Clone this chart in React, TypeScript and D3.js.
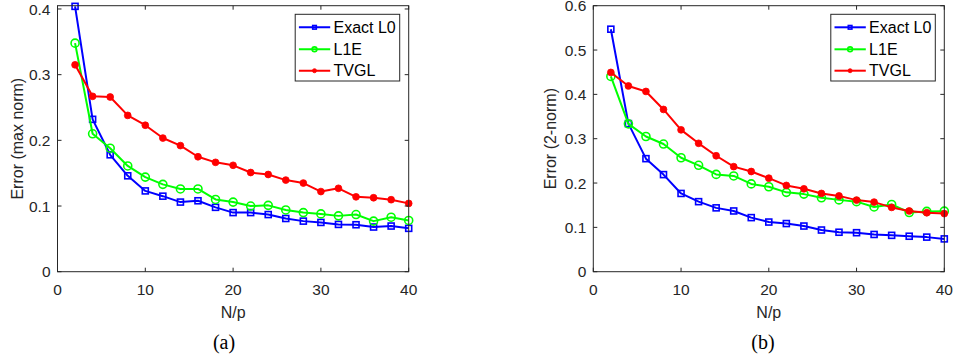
import React from 'react';
import * as d3 from 'd3';

// N/p values
const nOverP = [2, 4, 6, 8, 10, 12, 14, 16, 18, 20, 22, 24, 26, 28, 30, 32, 34, 36, 38, 40];

// (a) max norm
const maxExactL0 = [0.404, 0.232, 0.178, 0.146, 0.123, 0.115, 0.106, 0.108, 0.098, 0.090, 0.090, 0.087, 0.081, 0.077, 0.075, 0.072, 0.0715, 0.068, 0.0695, 0.066];
const maxL1E = [0.348, 0.210, 0.188, 0.161, 0.144, 0.133, 0.126, 0.126, 0.110, 0.106, 0.100, 0.101, 0.094, 0.090, 0.088, 0.085, 0.087, 0.077, 0.083, 0.078];
const maxTVGL = [0.315, 0.267, 0.266, 0.238, 0.223, 0.2035, 0.192, 0.175, 0.1665, 0.162, 0.151, 0.148, 0.1395, 0.135, 0.122, 0.127, 0.114, 0.1126, 0.1096, 0.104];

// (b) 2-norm
const twoExactL0 = [0.547, 0.334, 0.255, 0.219, 0.1765, 0.158, 0.144, 0.137, 0.122, 0.112, 0.1086, 0.103, 0.094, 0.089, 0.088, 0.084, 0.082, 0.080, 0.078, 0.074];
const twoL1E = [0.4405, 0.3335, 0.305, 0.288, 0.257, 0.240, 0.2195, 0.216, 0.198, 0.1916, 0.179, 0.175, 0.1667, 0.162, 0.158, 0.146, 0.1516, 0.1335, 0.136, 0.1366];
const twoTVGL = [0.4495, 0.419, 0.4066, 0.366, 0.320, 0.2896, 0.2615, 0.237, 0.226, 0.211, 0.1946, 0.187, 0.1765, 0.171, 0.1615, 0.157, 0.145, 0.137, 0.133, 0.131];

const xTicks = [0, 10, 20, 30, 40];
const yTicksA = [0, 0.1, 0.2, 0.3, 0.4];
const yTicksB = [0, 0.1, 0.2, 0.3, 0.4, 0.5, 0.6];

const seriesNames = ['Exact L0', 'L1E', 'TVGL'];
const seriesColors = ['#0000ff', '#00ff00', '#ff0000'];

const FONT = '"Liberation Sans", Arial, Helvetica, sans-serif';
const AXIS = '#262626';

type Box = { left: number; right: number; top: number; bottom: number };

function Marker({ kind, x, y, color, small }: { kind: number; x: number; y: number; color: string; small?: boolean }) {
  const k = small ? 0.6 : 1;
  if (kind === 0) {
    const h = 3 * k;
    return <rect x={x - h} y={y - h} width={2 * h} height={2 * h} fill="none" stroke={color} strokeWidth={1.6} />;
  }
  if (kind === 1) {
    return <circle cx={x} cy={y} r={4 * k} fill="none" stroke={color} strokeWidth={1.6} />;
  }
  return <circle cx={x} cy={y} r={3.4 * k} fill={color} stroke={color} strokeWidth={0.8} />;
}

function Panel({ box, yMax, yTicks, series, yLabel, labelX, caption, captionX }: {
  box: Box; yMax: number; yTicks: number[]; series: number[][]; yLabel: string;
  labelX: number; caption: string; captionX: number;
}) {
  const x = d3.scaleLinear().domain([0, 40]).range([box.left, box.right]);
  const y = d3.scaleLinear().domain([0, yMax]).range([box.bottom, box.top]);
  const line = d3.line<number>().x((_, i) => x(nOverP[i])).y((d) => y(d));
  const tick = 4;

  const legW = 104.5;
  const legX = box.right - 9 - legW;
  const legY = box.top + 8.6;
  const rowY = [21.6, 43.6, 65];

  return (
    <g>
      {series.map((vals, s) => (
        <g key={s}>
          <path d={line(vals) || ''} fill="none" stroke={seriesColors[s]} strokeWidth={2} strokeLinejoin="round" />
          {vals.map((v, i) => (
            <Marker key={i} kind={s} x={x(nOverP[i])} y={y(v)} color={seriesColors[s]} />
          ))}
        </g>
      ))}

      {/* box */}
      <rect x={box.left} y={box.top} width={box.right - box.left} height={box.bottom - box.top}
        fill="none" stroke={AXIS} strokeWidth={1} />

      {/* x ticks */}
      {xTicks.map((t) => (
        <g key={'x' + t}>
          <line x1={x(t)} x2={x(t)} y1={box.bottom} y2={box.bottom - tick} stroke={AXIS} />
          <line x1={x(t)} x2={x(t)} y1={box.top} y2={box.top + tick} stroke={AXIS} />
          <text x={x(t)} y={box.bottom + 23} textAnchor="middle" fontFamily={FONT} fontSize={15.5} fill={AXIS}>{t}</text>
        </g>
      ))}

      {/* y ticks */}
      {yTicks.map((t) => (
        <g key={'y' + t}>
          <line x1={box.left} x2={box.left + tick} y1={y(t)} y2={y(t)} stroke={AXIS} />
          <line x1={box.right} x2={box.right - tick} y1={y(t)} y2={y(t)} stroke={AXIS} />
          <text x={box.left - 7} y={y(t) + 5.6} textAnchor="end" fontFamily={FONT} fontSize={15.5} fill={AXIS}>{t}</text>
        </g>
      ))}

      <text x={(box.left + box.right) / 2} y={box.bottom + 46} textAnchor="middle" fontFamily={FONT} fontSize={16} fill={AXIS}>N/p</text>
      <text transform={`translate(${labelX},${(box.top + box.bottom) / 2}) rotate(-90)`} textAnchor="middle"
        fontFamily={FONT} fontSize={16} fill={AXIS}>{yLabel}</text>

      <text x={captionX} y={349} textAnchor="middle" fontFamily='"Liberation Serif", "Times New Roman", serif' fontSize={20} fill="#000">{caption}</text>

      {/* legend */}
      <rect x={legX} y={legY} width={legW} height={66.7} fill="#fff" stroke={AXIS} strokeWidth={1} />
      {seriesNames.map((name, s) => (
        <g key={name}>
          <line x1={legX + 3.7} x2={legX + 35} y1={box.top + rowY[s]} y2={box.top + rowY[s]} stroke={seriesColors[s]} strokeWidth={2} />
          <Marker kind={s} x={legX + 19.3} y={box.top + rowY[s]} color={seriesColors[s]} small />
          <text x={legX + 38.3} y={box.top + rowY[s] + 5.7} fontFamily={FONT} fontSize={16} fill="#000">{name}</text>
        </g>
      ))}
    </g>
  );
}

export default function App() {
  return (
    <svg width={953} height={362} style={{ position: 'absolute', left: 0, top: 0, background: '#fff' }}>
      <rect width={953} height={362} fill="#fff" />
      <Panel box={{ left: 57.5, right: 408.7, top: 5.7, bottom: 271.7 }} yMax={0.405} yTicks={yTicksA}
        series={[maxExactL0, maxL1E, maxTVGL]} yLabel="Error (max norm)" labelX={23} caption="(a)" captionX={224} />
      <Panel box={{ left: 593.3, right: 944.3, top: 5.7, bottom: 271.7 }} yMax={0.6} yTicks={yTicksB}
        series={[twoExactL0, twoL1E, twoTVGL]} yLabel="Error (2-norm)" labelX={556} caption="(b)" captionX={763} />
    </svg>
  );
}
